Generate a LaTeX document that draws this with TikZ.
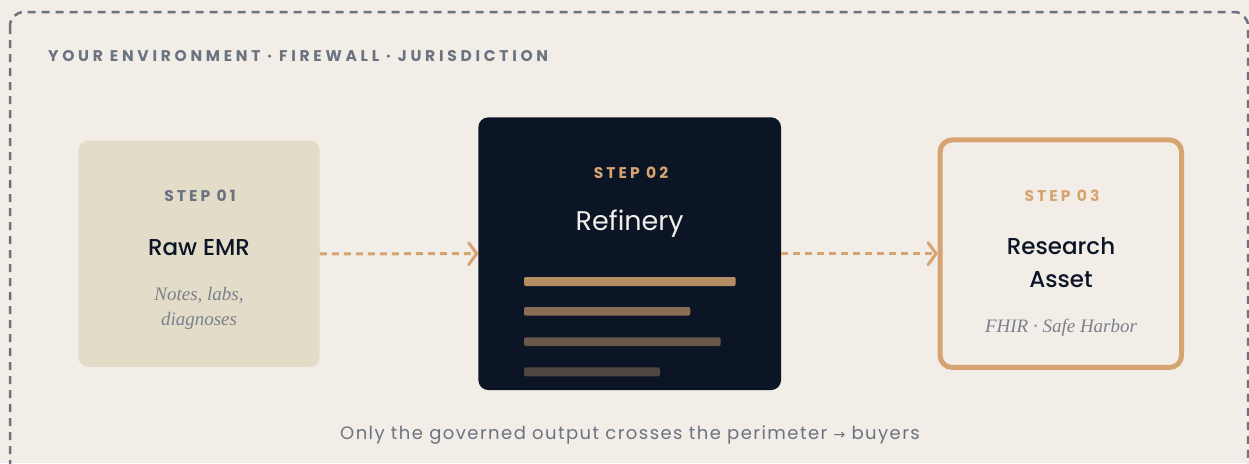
\documentclass[tikz,border=0pt]{standalone}
\usepackage{fontspec}
\usetikzlibrary{arrows.meta}
\setsansfont{Poppins}
\newfontfamily\popreg{Poppins}
\newfontfamily\popmed{Poppins Medium}
\newfontfamily\popcaps{Poppins Bold}[LetterSpace=20]
\newfontfamily\pophead{Poppins Bold}[LetterSpace=24]
\newfontfamily\popfoot{Poppins}[LetterSpace=8]
\newfontfamily\serifit{Liberation Serif}
\newfontfamily\symfont{DejaVu Sans}

\definecolor{paper}{HTML}{F2EEE7}
\definecolor{sand}{HTML}{E3DCC9}
\definecolor{ink}{HTML}{0B1526}
\definecolor{amber}{HTML}{D6A470}
\definecolor{slate}{HTML}{6B7280}
\definecolor{mist}{HTML}{7B808C}
\definecolor{cream}{HTML}{F2EEE7}
\definecolor{barA}{HTML}{B58D64}
\definecolor{barB}{HTML}{8A6E53}
\definecolor{barC}{HTML}{695847}
\definecolor{barD}{HTML}{4F463F}

\begin{document}
\begin{tikzpicture}[x=1pt,y=-1pt,
  card/.style={rectangle, rounded corners=10pt, inner sep=0pt},
  flow/.style={draw=amber, line width=3pt, dash pattern=on 7pt off 5pt,
    -{Straight Barb[length=8pt,width=22pt,line cap=round,line join=round]}},
  steplabel/.style={anchor=base, inner sep=0pt, font=\popcaps\fontsize{15.5}{18}\selectfont},
  cardtitle/.style={anchor=base, inner sep=0pt, text=ink, font=\popmed\fontsize{23}{28}\selectfont},
  cardnote/.style={anchor=base, inner sep=0pt, text=mist, font=\serifit\itshape\fontsize{19}{22}\selectfont},
  bar/.style={rounded corners=2pt}
]
\useasboundingbox (0,0) rectangle (1249,463);
\clip (0,0) rectangle (1249,463);
\fill[paper] (0,0) rectangle (1249,463);

% perimeter of the environment
\draw[slate, line width=2.5pt, dash pattern=on 8pt off 6pt, rounded corners=14pt]
  (10,12) rectangle (1248,476);
\node[anchor=base west, inner sep=0pt, text=slate,
  font=\pophead\fontsize{15.5}{18}\selectfont] (hdr) at (48,61)
  {YOUR ENVIRONMENT · FIREWALL · JURISDICTION};

% step 1
\node[card, fill=sand, minimum width=241.4pt, minimum height=226.3pt] (raw) at (199,253.8) {};
\node[steplabel, text=slate] (s1) at (200,201.7) {STEP 01};
\node[cardtitle] (t1) at (199,255) {Raw EMR};
\node[cardnote] (n1a) at (199,300) {Notes, labs,};
\node[cardnote] (n1b) at (199,325.7) {diagnoses};

% step 2
\node[card, fill=ink, minimum width=302.7pt, minimum height=272.7pt] (ref) at (629.7,253.7) {};
\node[steplabel, text=amber] (s2) at (631,178.3) {STEP 02};
\node[anchor=base, inner sep=0pt, text=cream, font=\popreg\fontsize{27}{32}\selectfont] (t2) at (629.7,230.7) {Refinery};
\fill[bar, barA] (524,277) rectangle (735.7,286);
\fill[bar, barB] (524,307) rectangle (690.3,315.7);
\fill[bar, barC] (524,337.3) rectangle (720.7,346);
\fill[bar, barD] (524,367.3) rectangle (660,376.3);

% step 3
\node[card, rounded corners=12pt, draw=amber, line width=5pt, fill=paper,
  minimum width=241.5pt, minimum height=227.5pt] (asset) at (1060.8,253.7) {};
\node[steplabel, text=amber] (s3) at (1062,201) {STEP 03};
\node[cardtitle] (t3a) at (1061,254.3) {Research};
\node[cardtitle] (t3b) at (1061,287.3) {Asset};
\node[cardnote] (n3) at (1061,332.7) {FHIR · Safe Harbor};

% flow between the steps
\draw[flow] (raw.east) -- (ref.west);
\draw[flow] (ref.east) -- (asset.west);

\node[anchor=base, inner sep=0pt, text=slate, font=\popfoot\fontsize{18}{21}\selectfont] (foot) at (630,439)
  {Only the governed output crosses the perimeter {\symfont\fontsize{14}{16}\selectfont →} buyers};
\end{tikzpicture}
\end{document}
